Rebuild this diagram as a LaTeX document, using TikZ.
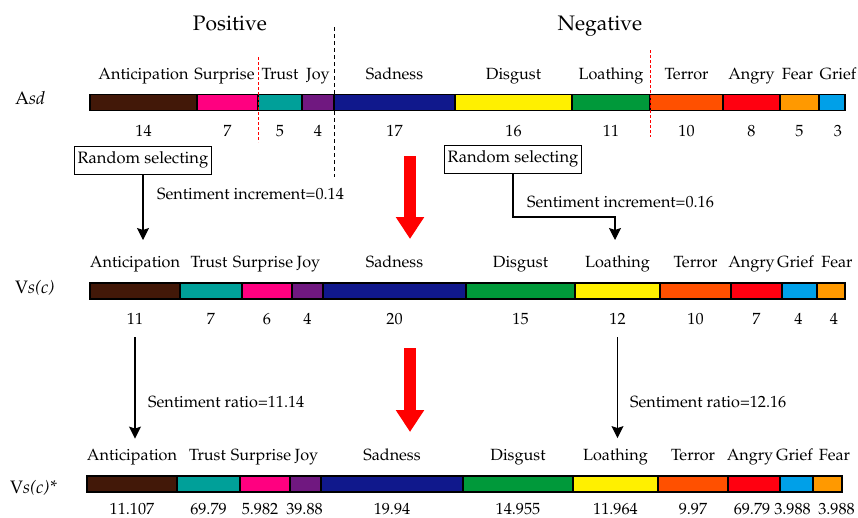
\documentclass[tikz,border=0pt]{standalone}
\usepackage[T1]{fontenc}
\usepackage{mathpazo}
\usepackage{tikz}
\usetikzlibrary{arrows.meta}

\definecolor{cbrown}{RGB}{66,24,8}
\definecolor{cpink}{RGB}{255,0,128}
\definecolor{cteal}{RGB}{0,160,153}
\definecolor{cpurple}{RGB}{112,24,128}
\definecolor{cnavy}{RGB}{16,24,140}
\definecolor{cyellow}{RGB}{255,240,0}
\definecolor{cgreen}{RGB}{0,153,58}
\definecolor{cterror}{RGB}{255,80,0}
\definecolor{cangry}{RGB}{255,0,16}
\definecolor{cfear}{RGB}{255,153,0}
\definecolor{cgrief}{RGB}{0,160,232}

\begin{document}
\begin{tikzpicture}[x=1pt, y=-1pt,
	seg/.style={draw, line width=1.2pt, minimum height=16pt, inner sep=0pt},
	txt/.style={font=\fontsize{16.2}{19}\selectfont, inner sep=0pt, anchor=base},
	rowname/.style={font=\fontsize{18}{21}\selectfont, inner sep=0pt, anchor=base west},
	head/.style={font=\fontsize{21}{25}\selectfont, inner sep=0pt, anchor=base},
	selbox/.style={draw, line width=1pt, font=\fontsize{16.5}{19}\selectfont, inner xsep=3pt, minimum height=28pt},
	arr/.style={line width=1.1pt, -{Stealth[length=12pt, width=12pt, inset=2pt]}},
	bigarr/.style={draw=red, line width=12pt, -{Triangle[length=22pt, width=27pt]}}]
	\useasboundingbox (0,0) rectangle (858,517);

	\path (230,30) node[head] (pos) {Positive}
		(600,30) node[head] (neg) {Negative};

	% Asd
	\node[rowname] (asd) at (15,104) {A\textit{sd}};
	\foreach \a/\b/\c/\t/\n/\p/\q [count=\i] in {90/197/cbrown/Anticipation/14/0/0,
		197/258/cpink/Surprise/7/-3/0, 258/302/cteal/Trust/5/0/0, 302/334/cpurple/Joy/4/0/0,
		334/455/cnavy/Sadness/17/0/0, 455/572/cyellow/Disgust/16/0/0, 572/650/cgreen/Loathing/11/0/0,
		650/723/cterror/Terror/10/0/0, 723/780/cangry/Angry/8/0/0, 780/819/cfear/Fear/5/-2/0,
		819/845/cgrief/Grief/3/6/6}{
		\node[seg, fill=\c, minimum width={(\b-\a)*1pt}] (a\i) at ({(\a+\b)/2},102.5) {};
		\node[txt] (la\i) at ({(\a+\b)/2+\p},79) {\t};
		\node[txt] (na\i) at ({(\a+\b)/2+\q},136) {\n};
	}

	% Vs(c)
	\node[rowname] (vsc) at (15,293) {V\textit{s(c)}};
	\foreach \a/\b/\c/\t/\n/\p/\q [count=\i] in {90/180/cbrown/Anticipation/11/0/0,
		180/242/cteal/Trust/7/-2/0, 242/292/cpink/Surprise/6/-4/0, 292/323/cpurple/Joy/4/1/0,
		323/466/cnavy/Sadness/20/0/0, 466/575/cgreen/Disgust/15/0/0, 575/660/cyellow/Loathing/12/0/0,
		660/731/cterror/Terror/10/0/0, 731/782/cangry/Angry/7/-5/0, 782/817/cgrief/Grief/4/-4/-1,
		817/845/cfear/Fear/4/6/3}{
		\node[seg, fill=\c, minimum width={(\b-\a)*1pt}] (v\i) at ({(\a+\b)/2},291) {};
		\node[txt] (lv\i) at ({(\a+\b)/2+\p},267) {\t};
		\node[txt] (nv\i) at ({(\a+\b)/2+\q},324) {\n};
	}

	% Vs(c)*
	\node[rowname] (vss) at (10,493) {V\textit{s(c)*}};
	\foreach \a/\b/\c/\t/\n/\p/\q [count=\i] in {87/177/cbrown/Anticipation/11.107/0/0,
		177/240/cteal/Trust/69.79/-1/0, 240/290/cpink/Surprise/5.982/-4/-5, 290/321/cpurple/Joy/39.88/1/-1,
		321/463/cnavy/Sadness/19.94/0/0, 463/573/cgreen/Disgust/14.955/0/0, 573/658/cyellow/Loathing/11.964/0/0,
		658/728/cterror/Terror/9.97/0/0, 728/780/cangry/Angry/69.79/-4/-2, 780/813/cgrief/Grief/3.988/-2/-4,
		813/842/cfear/Fear/3.988/7/9}{
		\node[seg, fill=\c, minimum width={(\b-\a)*1pt}] (s\i) at ({(\a+\b)/2},484) {};
		\node[txt] (ls\i) at ({(\a+\b)/2+\p},460) {\t};
		\node[txt] (ns\i) at ({(\a+\b)/2+\q},514) {\n};
	}

	% dividing lines
	\draw[red, line width=1pt, dash pattern=on 2.5pt off 2.5pt] (258,57) -- (258,142)
		(650,50) -- (650,137);
	\draw[line width=1pt, dash pattern=on 4pt off 3pt] (334,27) -- (334,177);

	% selecting
	\node[selbox] (rs1) at (143,160) {Random selecting};
	\node[selbox] (rs2) at (513,159) {Random selecting};
	\coordinate (t1) at (143,240);
	\coordinate (k2) at (615,217);
	\coordinate (t2) at (615,240);
	\draw[arr] (rs1) -- (t1);
	\draw[arr] (rs2) |- (k2) -- (t2);
	\node[txt, anchor=base west] (inc1) at (157,199) {Sentiment increment=0.14};
	\node[txt, anchor=base west] (inc2) at (527,207) {Sentiment increment=0.16};

	% ratio
	\draw[arr] ([yshift=-13pt]nv1.south) -- ([yshift=10pt]nv1.south |- ls1.north);
	\draw[arr] ([yshift=-13pt]nv7.south) -- ([yshift=10pt]nv7.south |- ls7.north);
	\node[txt, anchor=base west] (rat1) at (148,407) {Sentiment ratio=11.14};
	\node[txt, anchor=base west] (rat2) at (630,407) {Sentiment ratio=12.16};

	\draw[bigarr] (410,156) -- (410,239);
	\draw[bigarr] (410,348) -- (410,432);
\end{tikzpicture}
\end{document}
